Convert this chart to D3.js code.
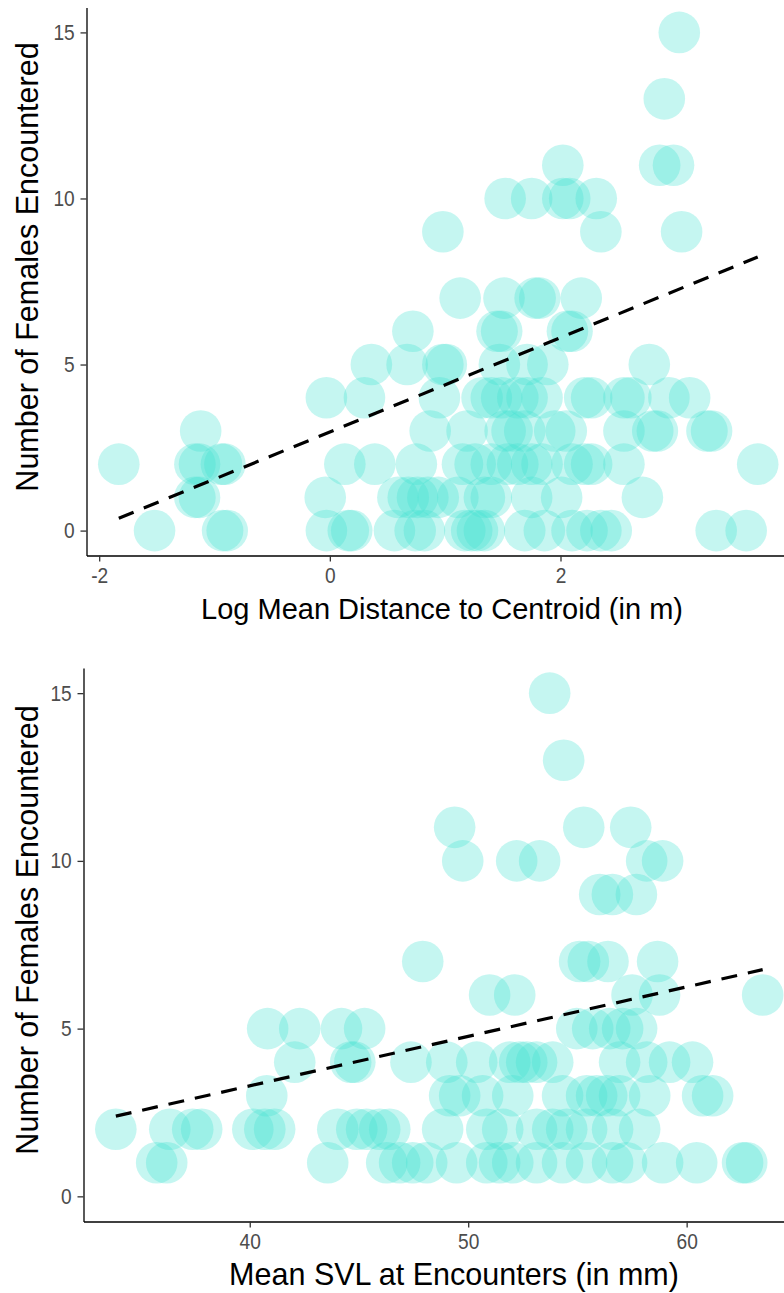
<!DOCTYPE html>
<html>
<head>
<meta charset="utf-8">
<script src="https://cdn.jsdelivr.net/npm/d3@7/dist/d3.min.js"></script>
<style>
	body { margin: 0; background: #fff; }
	text { font-family: "Liberation Sans", Arial, sans-serif; }
</style>
</head>
<body>
<svg id="chart"></svg>
<script>
// top panel: log mean distance to centroid vs females encountered
var logDist = [
	3.03,
	2.90,
	2.02, 2.86, 2.98,
	1.52, 1.75, 2.02, 2.08, 2.31,
	0.98, 2.35, 3.05,
	1.13, 1.51, 1.78, 1.82, 2.18,
	0.72, 1.45, 1.49, 2.06, 2.10,
	0.36, 0.67, 0.98, 1.01, 1.47, 1.71, 1.89, 2.77,
	-0.03, 0.30, 0.95, 1.32, 1.40, 1.49, 1.63, 1.71, 1.84, 2.21, 2.27, 2.55, 2.61, 2.94, 3.12,
	-1.12, 0.87, 1.19, 1.52, 1.58, 1.69, 1.95, 2.05, 2.55, 2.80, 2.84, 3.27, 3.31,
	-1.83, -1.17, -1.13, -0.94, -0.91, 0.13, 0.39, 0.75, 1.15, 1.26, 1.40, 1.54, 1.63, 1.75, 1.84, 2.10, 2.21, 2.27, 2.55, 3.71,
	-1.17, -1.13, -0.04, 0.59, 0.68, 0.76, 0.85, 0.94, 1.11, 1.34, 1.40, 1.75, 2.01, 2.71,
	-1.52, -0.93, -0.89, -0.03, 0.16, 0.19, 0.56, 0.74, 0.82, 1.17, 1.23, 1.28, 1.34, 1.69, 1.86, 2.10, 2.23, 2.35, 2.44, 3.35, 3.61
];
var femalesA = [
	15,
	13,
	11, 11, 11,
	10, 10, 10, 10, 10,
	9, 9, 9,
	7, 7, 7, 7, 7,
	6, 6, 6, 6, 6,
	5, 5, 5, 5, 5, 5, 5, 5,
	4, 4, 4, 4, 4, 4, 4, 4, 4, 4, 4, 4, 4, 4, 4,
	3, 3, 3, 3, 3, 3, 3, 3, 3, 3, 3, 3, 3,
	2, 2, 2, 2, 2, 2, 2, 2, 2, 2, 2, 2, 2, 2, 2, 2, 2, 2, 2, 2,
	1, 1, 1, 1, 1, 1, 1, 1, 1, 1, 1, 1, 1, 1,
	0, 0, 0, 0, 0, 0, 0, 0, 0, 0, 0, 0, 0, 0, 0, 0, 0, 0, 0, 0, 0
];

// bottom panel: mean SVL vs females encountered
var svl = [
	53.73,
	54.37,
	49.38, 55.29, 57.44,
	49.75, 52.22, 53.27, 58.17, 58.90,
	56.02, 56.60, 57.70,
	47.92, 55.10, 55.50, 56.40, 58.67,
	50.98, 52.13, 57.50, 58.76, 63.48,
	40.82, 42.29, 44.20, 45.26, 54.97, 55.70, 56.48, 57.07, 57.71,
	42.06, 44.62, 44.81, 47.38, 49.02, 50.39, 51.90, 52.36, 52.68, 53.13, 53.87, 56.93, 58.17, 59.22, 60.27,
	40.78, 49.15, 49.61, 50.66, 52.04, 54.32, 55.42, 55.88, 56.34, 56.93, 58.31, 60.73, 61.19,
	33.87, 36.34, 37.39, 37.80, 40.14, 40.69, 41.14, 44.03, 44.90, 45.35, 45.95, 46.41, 48.83, 50.85, 51.58, 53.13, 53.87, 54.51, 55.42, 56.61, 57.85,
	35.74, 36.20, 43.57, 46.27, 46.86, 47.46, 48.10, 49.47, 50.85, 51.44, 52.04, 53.13, 54.32, 55.42, 56.61, 57.25, 58.90, 60.46, 62.56, 62.75
];
var femalesB = [
	15,
	13,
	11, 11, 11,
	10, 10, 10, 10, 10,
	9, 9, 9,
	7, 7, 7, 7, 7,
	6, 6, 6, 6, 6,
	5, 5, 5, 5, 5, 5, 5, 5, 5,
	4, 4, 4, 4, 4, 4, 4, 4, 4, 4, 4, 4, 4, 4, 4,
	3, 3, 3, 3, 3, 3, 3, 3, 3, 3, 3, 3, 3,
	2, 2, 2, 2, 2, 2, 2, 2, 2, 2, 2, 2, 2, 2, 2, 2, 2, 2, 2, 2, 2,
	1, 1, 1, 1, 1, 1, 1, 1, 1, 1, 1, 1, 1, 1, 1, 1, 1, 1, 1, 1
];

var yTicks = [0, 5, 10, 15];
var xTicksA = [-2, 0, 2];
var xTicksB = [40, 50, 60];
// fitted line: [intercept, slope]
var fitA = [2.97, 1.42];
var fitB = [-2.606, 0.1475];

var svg = d3.select('#chart')
	.attr('width', 784)
	.attr('height', 1293);

function drawPanel(opt) {
	var x = d3.scaleLinear().domain(opt.xDomain).range(opt.xRange);
	var y = d3.scaleLinear().domain([-0.75, 15.75]).range(opt.yRange);
	var g = svg.append('g');

	var pts = opt.xs.map(function(v, i) { return {x: v, y: opt.ys[i]}; });

	g.selectAll('.pt')
		.data(pts)
		.join('circle')
			.attr('class', 'pt')
			.attr('cx', function(d) { return x(d.x); })
			.attr('cy', function(d) { return y(d.y); })
			.attr('r', 20.8)
			.attr('fill', '#40E0D0')
			.attr('fill-opacity', 0.3);

	var ext = d3.extent(opt.xs);
	var line = ext.map(function(v) { return {x: v, y: opt.fit[0] + opt.fit[1] * v}; });
	g.append('path')
		.datum(line)
		.attr('d', d3.line().x(function(d) { return x(d.x); }).y(function(d) { return y(d.y); }))
		.attr('fill', 'none')
		.attr('stroke', '#000')
		.attr('stroke-width', 3.2)
		.attr('stroke-dasharray', '16,11');

	var plain = function(d) { return String(d); };
	var ax = g.append('g')
		.attr('transform', 'translate(0,' + opt.yRange[0] + ')')
		.call(d3.axisBottom(x).tickValues(opt.xTicks).tickFormat(plain)
			.tickSize(6).tickSizeOuter(0).tickPadding(6));
	var ay = g.append('g')
		.attr('transform', 'translate(' + opt.xRange[0] + ',0)')
		.call(d3.axisLeft(y).tickValues(yTicks).tickFormat(plain)
			.tickSize(6).tickSizeOuter(0).tickPadding(7.5));

	[ax, ay].forEach(function(a) {
		a.select('.domain').attr('stroke', '#000').attr('stroke-width', 1.3);
		a.selectAll('.tick line').attr('stroke', '#333').attr('stroke-width', 1.3);
		a.selectAll('.tick text')
			.attr('fill', '#4d4d4d')
			.attr('transform', 'scale(0.87,1)')
			.style('font-size', '22px')
			.style('font-family', '"Liberation Sans", Arial, sans-serif');
	});

	g.append('text')
		.attr('transform', 'translate(' + opt.xTitlePos[0] + ',' + opt.xTitlePos[1] + ')')
		.attr('text-anchor', 'middle')
		.style('font-size', opt.xTitleSize + 'px')
		.text(opt.xTitle);

	g.append('text')
		.attr('transform', 'translate(' + opt.yTitlePos[0] + ',' + opt.yTitlePos[1] + ') rotate(-90)')
		.attr('text-anchor', 'middle')
		.style('font-size', '30.5px')
		.text('Number of Females Encountered');
}

drawPanel({
	xs: logDist, ys: femalesA, fit: fitA, xTicks: xTicksA,
	xDomain: [-2.11, 3.99], xRange: [86.5, 790],
	yRange: [555.5, 7.5],
	xTitle: 'Log Mean Distance to Centroid (in m)', xTitleSize: 29,
	xTitlePos: [442, 619], yTitlePos: [38, 267]
});

drawPanel({
	xs: svl, ys: femalesB, fit: fitB, xTicks: xTicksB,
	xDomain: [32.39, 64.96], xRange: [83.5, 795],
	yRange: [1221.5, 668],
	xTitle: 'Mean SVL at Encounters (in mm)', xTitleSize: 30.5,
	xTitlePos: [454, 1285], yTitlePos: [38, 930]
});
</script>
</body>
</html>
